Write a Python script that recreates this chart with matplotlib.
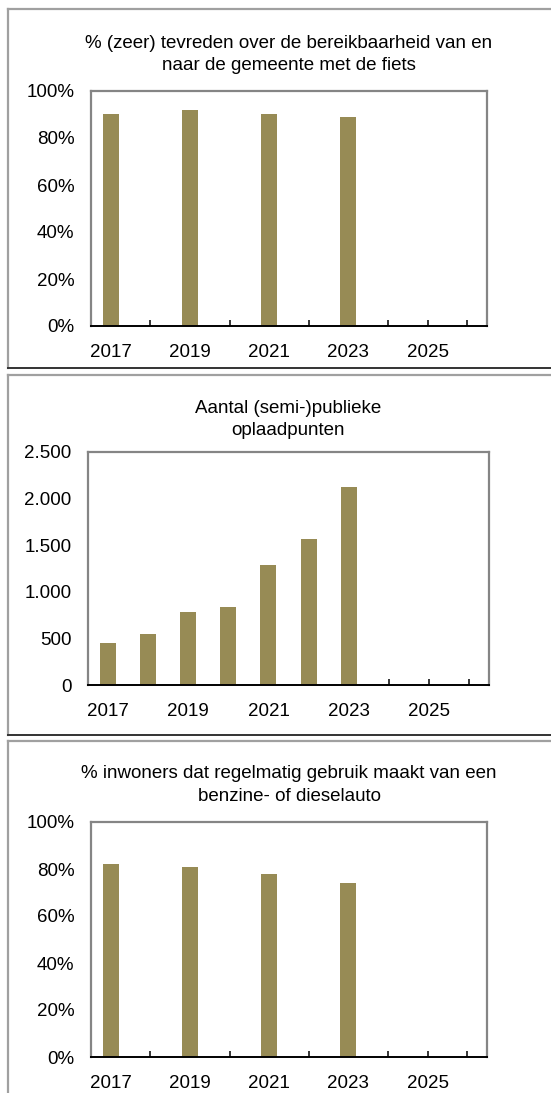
import matplotlib
matplotlib.use("Agg")
import matplotlib.pyplot as plt
from matplotlib.lines import Line2D
from matplotlib.ticker import FuncFormatter

plt.rcParams['font.family'] = ['Liberation Sans', 'DejaVu Sans']

years = [2017, 2018, 2019, 2020, 2021, 2022, 2023, 2024, 2025, 2026]
tick_labels = ['2017', '', '2019', '', '2021', '', '2023', '', '2025', '']

title1 = "% (zeer) tevreden over de bereikbaarheid van en\nnaar de gemeente met de fiets"
fiets_pct = [90, None, 92, None, 90, None, 89, None, None, None]

title2 = "Aantal (semi-)publieke\noplaadpunten"
oplaadpunten = [450, 545, 780, 840, 1290, 1565, 2120, None, None, None]

title3 = "% inwoners dat regelmatig gebruik maakt van een\nbenzine- of dieselauto"
auto_pct = [82, None, 81, None, 78, None, 74, None, None, None]

BAR = '#978B55'
W, H = 551, 1093
fig = plt.figure(figsize=(W / 100, H / 100), dpi=100)

def fx(x): return x / W
def fy(y): return 1 - y / H

# panel frames
def frame(top, bottom=None):
    fig.add_artist(Line2D([fx(8), fx(8)], [fy(top), fy(bottom if bottom else H)], color='#A0A0A0', lw=1.6))
    fig.add_artist(Line2D([fx(8), 1], [fy(top), fy(top)], color='#A0A0A0', lw=1.6))
    if bottom:
        fig.add_artist(Line2D([fx(8), 1], [fy(bottom), fy(bottom)], color='#333333', lw=1.4))

frame(9, 368)
frame(375, 735)
frame(741)

FS = 13.5

def panel(left, right, top, bottom, values, ymax, step, fmt, title, t1):
    ax = fig.add_axes([fx(left), fy(bottom), (right - left) / W, (bottom - top) / H])
    xs = list(range(len(years)))
    vx = [i for i, v in zip(xs, values) if v is not None]
    vv = [v for v in values if v is not None]
    ax.bar(vx, vv, width=0.4, color=BAR, zorder=2)
    ax.set_xlim(-0.5, len(years) - 0.5)
    ax.set_ylim(0, ymax)
    ax.set_yticks([i * step for i in range(int(ymax / step) + 1)])
    ax.yaxis.set_major_formatter(FuncFormatter(fmt))
    ax.set_xticks(xs)
    ax.set_xticklabels(tick_labels)
    ax.tick_params(axis='x', direction='in', length=4, width=1.1, color='black', pad=13, labelsize=FS)
    ax.tick_params(axis='y', length=0, pad=12, labelsize=FS)
    for s in ['left', 'top', 'right']:
        ax.spines[s].set_color('#858585')
        ax.spines[s].set_linewidth(1.6)
    ax.spines['bottom'].set_color('black')
    ax.spines['bottom'].set_linewidth(1.4)
    ax.spines['bottom'].set_zorder(3)
    cx = (left + right) / 2
    fig.text(fx(cx), fy(t1), title, ha='center', va='center', fontsize=FS, linespacing=1.45)
    return ax

pct = lambda v, p: f"{int(v)}%"
def dots(v, p):
    return f"{int(v):,}".replace(',', '.')

panel(91, 487, 91, 326, fiets_pct, 100, 20, pct, title1, 54.5)
panel(88, 489, 452, 685, oplaadpunten, 2500, 500, dots, title2, 419.5)
panel(91, 487, 822, 1057, auto_pct, 100, 20, pct, title3, 785)

fig.savefig('out.png', dpi=100)
